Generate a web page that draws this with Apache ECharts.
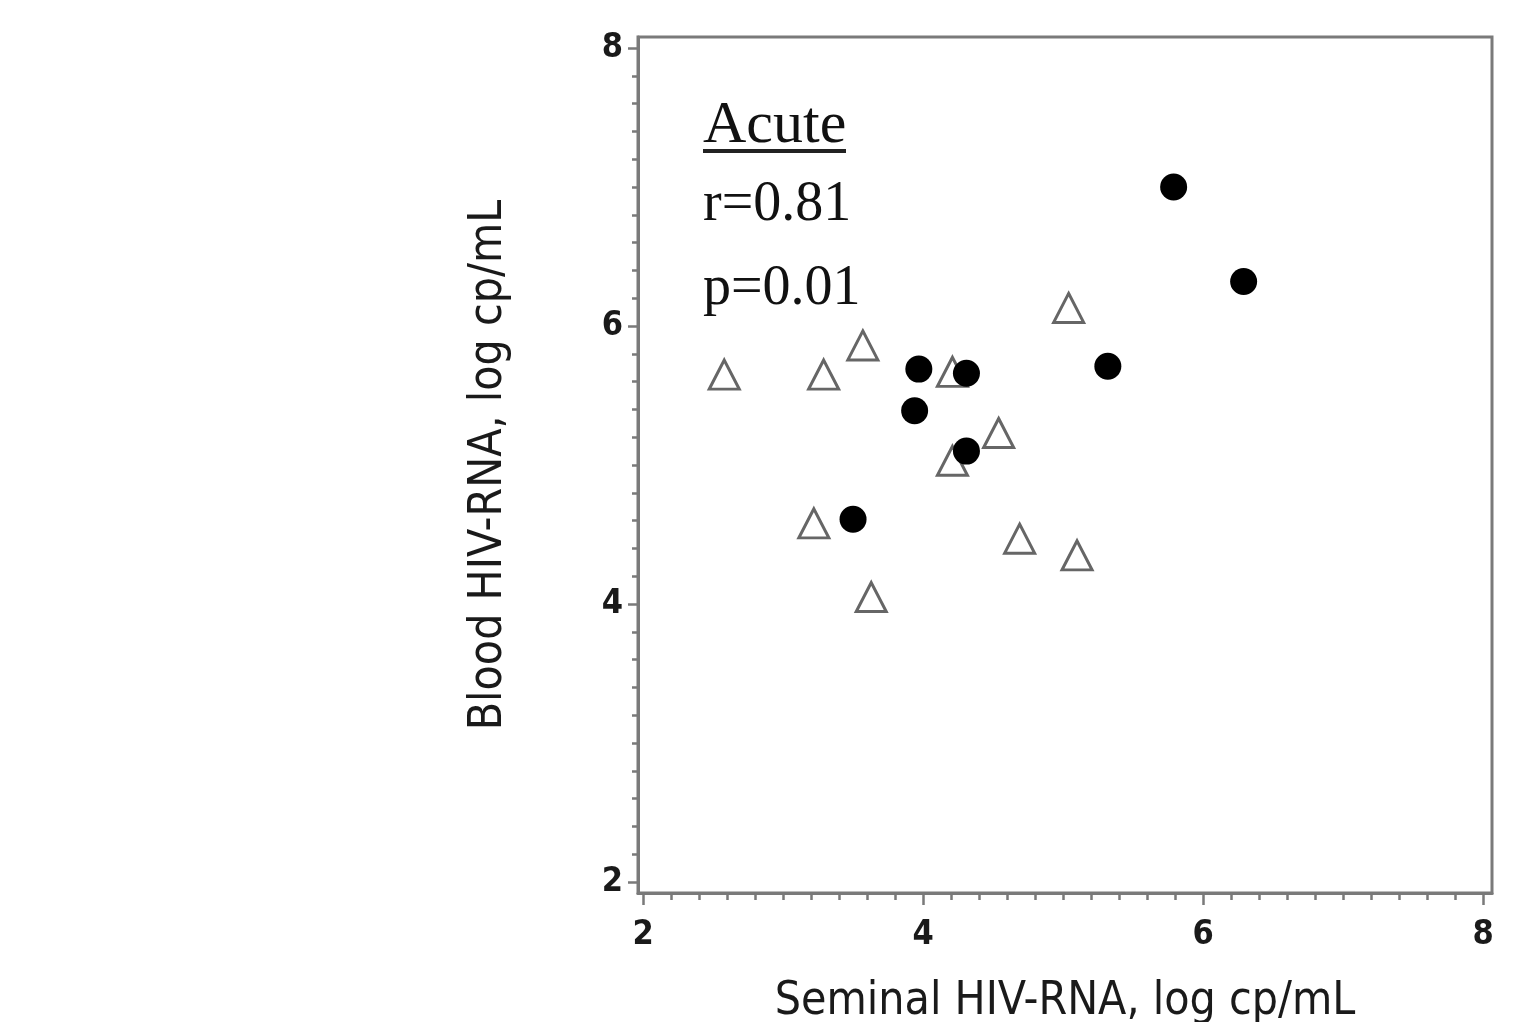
<!DOCTYPE html>
<html>
<head>
<meta charset="utf-8">
<script src="https://cdn.jsdelivr.net/npm/echarts@6/dist/echarts.min.js"></script>
<style>
html,body{margin:0;padding:0;background:#fff;}
#chart{width:1513px;height:1022px;}
</style>
</head>
<body>
<div id="chart"></div>
<script>
// Data (log10 copies/mL)
const acuteSeminal = [5.79, 6.29, 5.32, 3.97, 4.31, 3.94, 4.31, 3.50];
const acuteBlood   = [7.00, 6.32, 5.71, 5.69, 5.66, 5.39, 5.10, 4.61];
const otherSeminal = [2.58, 3.29, 3.57, 5.04, 4.21, 4.54, 4.21, 3.22, 4.69, 5.10, 3.63];
const otherBlood   = [5.65, 5.65, 5.86, 6.13, 5.67, 5.23, 5.03, 4.58, 4.47, 4.35, 4.05];
const majorTicks = [2, 4, 6, 8];
const minorTicks = [2.2, 2.4, 2.6, 2.8, 3.0, 3.2, 3.4, 3.6, 3.8,
                    4.2, 4.4, 4.6, 4.8, 5.0, 5.2, 5.4, 5.6, 5.8,
                    6.2, 6.4, 6.6, 6.8, 7.0, 7.2, 7.4, 7.6, 7.8];
const xTitle = 'Seminal HIV-RNA, log cp/mL';
const yTitle = 'Blood HIV-RNA, log cp/mL';
const annot = ['Acute', 'r=0.81', 'p=0.01'];

const toPairs = (xs, ys) => xs.map((x, i) => [x, ys[i]]);

const axisGray = '#7a7a7a';
const tickFont = {fontFamily: '"DejaVu Sans Condensed", "DejaVu Sans", sans-serif', fontWeight: 'bold', fontSize: 34, color: '#1a1a1a'};
const titleFont = {fontFamily: '"DejaVu Sans Condensed", "DejaVu Sans", sans-serif', fontSize: 46, color: '#1a1a1a'};
const serif = '"Liberation Serif", "Times New Roman", serif';

const XMIN = 1.964, XMAX = 8.064, YMIN = 1.921, YMAX = 8.079;

const chart = echarts.init(document.getElementById('chart'), null, {renderer: 'canvas'});
chart.setOption({
  backgroundColor: '#ffffff',
  animation: false,
  grid: {left: 638, top: 37, width: 854, height: 856, show: true, borderColor: axisGray, borderWidth: 3, backgroundColor: 'transparent', containLabel: false, outerBoundsMode: 'none'},
  xAxis: [
    {
      type: 'value', min: XMIN, max: XMAX, position: 'bottom',
      name: xTitle, nameLocation: 'middle', nameGap: 86, nameTextStyle: titleFont,
      axisLine: {show: true, lineStyle: {color: axisGray, width: 3}},
      axisTick: {show: true, customValues: majorTicks, length: 12, lineStyle: {color: axisGray, width: 2.5}},
      axisLabel: {show: true, customValues: majorTicks, margin: 25, ...tickFont},
      splitLine: {show: false}
    },
    {
      type: 'value', min: XMIN, max: XMAX, position: 'bottom',
      axisLine: {show: false},
      axisTick: {show: true, customValues: minorTicks, length: 7, lineStyle: {color: axisGray, width: 2.5}},
      axisLabel: {show: false},
      splitLine: {show: false}
    }
  ],
  yAxis: [
    {
      type: 'value', min: YMIN, max: YMAX, position: 'left',
      name: yTitle, nameLocation: 'middle', nameGap: 126, nameTextStyle: titleFont,
      axisLine: {show: true, lineStyle: {color: axisGray, width: 3}},
      axisTick: {show: true, customValues: majorTicks, length: 10, lineStyle: {color: axisGray, width: 2.5}},
      axisLabel: {show: true, customValues: majorTicks, margin: 15, ...tickFont},
      splitLine: {show: false}
    },
    {
      type: 'value', min: YMIN, max: YMAX, position: 'left',
      axisLine: {show: false},
      axisTick: {show: true, customValues: minorTicks, length: 6, lineStyle: {color: axisGray, width: 2.5}},
      axisLabel: {show: false},
      splitLine: {show: false}
    }
  ],
  series: [
    {
      name: 'Other', type: 'scatter', xAxisIndex: 0, yAxisIndex: 0,
      symbol: 'triangle', symbolSize: [30, 29],
      itemStyle: {color: '#ffffff', borderColor: '#666666', borderWidth: 3, opacity: 1},
      data: toPairs(otherSeminal, otherBlood), z: 2
    },
    {
      name: 'Acute', type: 'scatter', xAxisIndex: 0, yAxisIndex: 0,
      symbol: 'circle', symbolSize: 27,
      itemStyle: {color: '#000000', opacity: 1},
      data: toPairs(acuteSeminal, acuteBlood), z: 3
    }
  ],
  graphic: [
    {type: 'text', x: 703, y: 126, style: {text: annot[0], font: '60px ' + serif, fill: '#111', textAlign: 'left', verticalAlign: 'middle'}},
    {type: 'rect', shape: {x: 703, y: 149, width: 143, height: 4}, style: {fill: '#222'}},
    {type: 'text', x: 703, y: 205, style: {text: annot[1], font: '56px ' + serif, fill: '#111', textAlign: 'left', verticalAlign: 'middle'}},
    {type: 'text', x: 703, y: 289, style: {text: annot[2], font: '56px ' + serif, fill: '#111', textAlign: 'left', verticalAlign: 'middle'}}
  ]
});
</script>
</body>
</html>
